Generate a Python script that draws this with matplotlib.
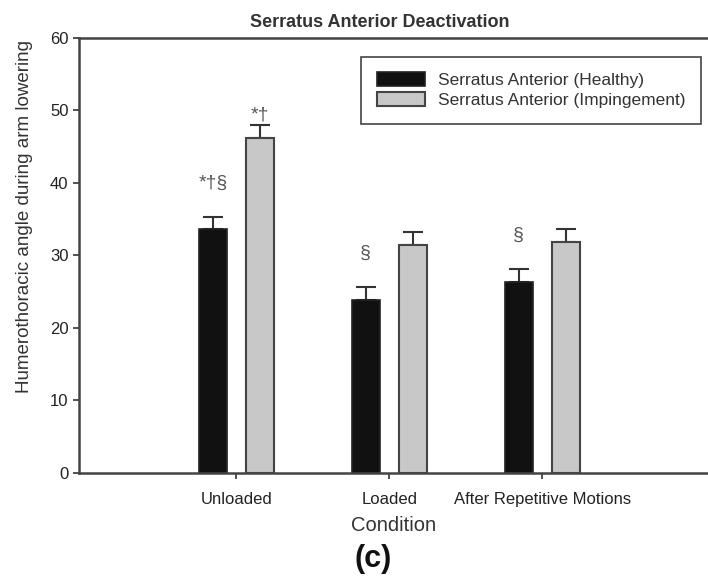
import matplotlib.pyplot as plt
import numpy as np

plt.rcParams['font.family'] = ['Liberation Sans', 'DejaVu Sans']

# data
conditions = ['Unloaded', 'Loaded', 'After Repetitive Motions']
healthy = [33.6, 23.8, 26.3]
healthy_err = [1.7, 1.9, 1.9]
impinge = [46.2, 31.4, 31.8]
impinge_err = [1.8, 1.9, 1.8]
healthy_marks = ['*†§', '§', '§']
impinge_marks = ['*†', '', '']

ink = '#333333'
fig = plt.figure(figsize=(7.08, 5.8), dpi=100)
ax = fig.add_axes([0.1116, 0.1845, 0.8884, 0.75])

x = np.arange(len(conditions))
w = 0.183
off = 0.154

ax.bar(x - off, healthy, w, color='#111111', edgecolor='#222222', linewidth=1.2,
       label='Serratus Anterior (Healthy)', zorder=2)
ax.bar(x + off, impinge, w, color='#c8c8c8', edgecolor='#444444', linewidth=1.5,
       label='Serratus Anterior (Impingement)', zorder=2)
ax.errorbar(x - off, healthy, yerr=[np.zeros(3), healthy_err], fmt='none',
            ecolor=ink, elinewidth=1.5, capsize=7, capthick=1.5, zorder=1)
ax.errorbar(x + off, impinge, yerr=[np.zeros(3), impinge_err], fmt='none',
            ecolor=ink, elinewidth=1.5, capsize=7, capthick=1.5, zorder=1)

# significance marks
for i in range(3):
    if healthy_marks[i]:
        ax.text(x[i] - off, healthy[i] + healthy_err[i] + 4.6, healthy_marks[i],
                ha='center', va='center', fontsize=14, color='#555555')
    if impinge_marks[i]:
        ax.text(x[i] + off, impinge[i] + impinge_err[i] + 1.4, impinge_marks[i],
                ha='center', va='center', fontsize=14, color='#555555')

ax.set_xlim(-1.03, 3.085)
ax.set_ylim(0, 60)
ax.set_yticks(np.arange(0, 61, 10))
ax.set_xticks(x)
ax.set_xticklabels(conditions)
ax.tick_params(colors=ink, labelsize=12, direction='out', length=4, width=1.2)
ax.tick_params(axis='x', pad=10)
for lab in ax.get_xticklabels() + ax.get_yticklabels():
    lab.set_color('#222222')

ax.spines['right'].set_visible(False)
for s in ['left', 'top', 'bottom']:
    ax.spines[s].set_color('#444444')
    ax.spines[s].set_linewidth(1.8)

ax.set_ylabel('Humerothoracic angle during arm lowering', fontsize=13.5, color='#333333')
ax.yaxis.set_label_coords(-0.073, 0.59)
ax.set_xlabel('Condition', fontsize=14.5, color='#333333', labelpad=6)
ax.set_title('Serratus Anterior Deactivation', fontsize=13, color='#333333',
             fontweight='bold', pad=8, x=0.478)

leg = ax.legend(loc='upper right', bbox_to_anchor=(0.9885, 0.957), fontsize=12.5,
                fancybox=False, edgecolor='#444444', framealpha=1,
                handlelength=2.8, handleheight=0.8, borderpad=0.9,
                labelspacing=0.25, handletextpad=0.7, borderaxespad=0)
leg.get_frame().set_linewidth(1.2)
for t in leg.get_texts():
    t.set_color('#333333')

fig.text(0.527, 0.036, '(c)', ha='center', va='center', fontsize=22,
         fontweight='bold', color='#111111')

fig.savefig('out.png', dpi=100)
